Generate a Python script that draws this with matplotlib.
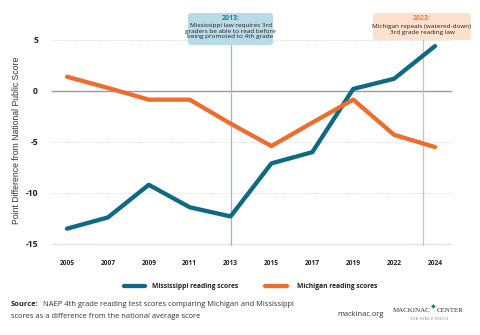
import matplotlib
matplotlib.use("Agg")
import matplotlib.pyplot as plt
from matplotlib.patches import FancyBboxPatch

years = ["2005", "2007", "2009", "2011", "2013", "2015", "2017", "2019", "2022", "2024"]
mississippi = [-13.5, -12.4, -9.2, -11.4, -12.3, -7.1, -6.0, 0.2, 1.2, 4.4]
michigan = [1.4, 0.3, -0.85, -0.85, -3.2, -5.4, -3.1, -0.85, -4.3, -5.5]
y_ticks = [-15, -10, -5, 0, 5]

# event markers (position on the category axis)
event_2013 = 4.0
event_2023 = 8.7

TEAL = "#0e6a80"
ORANGE = "#ee6c2d"

plt.rcParams["font.family"] = ["Open Sans", "DejaVu Sans"]

W, H = 480, 335
fig = plt.figure(figsize=(4.8, 3.35), dpi=100)
ax = fig.add_axes([52 / W, 1 - 246 / H, 400 / W, 236 / H])


def fx(px):
    return px / W


def fy(py):
    return 1 - py / H


x = list(range(len(years)))

for yv in [5, -5, -10]:
    ax.axhline(yv, color="#dddddd", lw=0.7, ls=(0, (1, 1)), zorder=1)
ax.axhline(-15, color="#e2e2e2", lw=0.8, zorder=1)
ax.axhline(0, color="#9a9a9a", lw=1.0, zorder=1)

ax.plot([event_2013, event_2013], [-15.2, 5], color="#8fbfcd", lw=0.9, zorder=2)
ax.plot([event_2023, event_2023], [-15.2, 5], color="#f3b497", lw=0.9, zorder=2)

ax.plot(x, mississippi, color=TEAL, lw=3.1, solid_capstyle="round",
        solid_joinstyle="round", zorder=3)
ax.plot(x, michigan, color=ORANGE, lw=3.1, solid_capstyle="round",
        solid_joinstyle="round", zorder=3)

ax.set_xlim(-0.367, 9.416)
ax.set_ylim(-15.2, 7.94)
ax.set_xticks(x)
ax.set_xticklabels(years, fontsize=4.8, fontweight="bold", color="#222222")
ax.set_yticks(y_ticks)
ax.set_yticklabels([str(v) for v in y_ticks], fontsize=6.2, fontweight="bold",
                   color="#222222")
ax.tick_params(axis="both", length=0)
ax.tick_params(axis="x", pad=10)
ax.tick_params(axis="y", pad=10)
for s in ax.spines.values():
    s.set_visible(False)

fig.text(fx(17), fy(140), "Point Difference from National Public Score",
         rotation=90, ha="center", va="center", fontsize=6.2, color="#333333",
         family=["Liberation Sans", "DejaVu Sans"])

# annotation boxes
fig.patches.append(FancyBboxPatch((fx(188), fy(45)), fx(273) - fx(188), fy(13) - fy(45),
                                  boxstyle="round,pad=0,rounding_size=0.008",
                                  transform=fig.transFigure, fc="#b8dbe5", ec="none",
                                  zorder=4))
fig.text(fx(230.5), fy(19), "2013:", ha="center", va="center",
         fontsize=5.0, fontweight="bold", color="#1b7f99", zorder=6)
fig.text(fx(230.5), fy(31),
         "Mississippi law requires 3rd\ngraders be able to read before\nbeing promoted to 4th grade",
         ha="center", va="center", fontsize=4.6, color="#222222",
         linespacing=1.05, zorder=6)

fig.patches.append(FancyBboxPatch((fx(373), fy(40)), fx(471) - fx(373), fy(13) - fy(40),
                                  boxstyle="round,pad=0,rounding_size=0.008",
                                  transform=fig.transFigure, fc="#fde1cd", ec="none",
                                  zorder=4))
fig.text(fx(422), fy(19), "2023:", ha="center", va="center",
         fontsize=5.0, fontweight="bold", color="#f07a3a", zorder=6)
fig.text(fx(422), fy(29.5), "Michigan repeals (watered-down)\n3rd grade reading law",
         ha="center", va="center", fontsize=4.6, color="#222222",
         linespacing=1.1, zorder=6)

# legend
leg_y = fy(286)
fig.lines.append(plt.Line2D([fx(124), fx(145)], [leg_y, leg_y], color=TEAL,
                            lw=3.1, solid_capstyle="round", transform=fig.transFigure))
fig.text(fx(152), leg_y, "Mississippi reading scores", ha="left", va="center",
         fontsize=4.9, fontweight="bold", color="#222222")
fig.lines.append(plt.Line2D([fx(265), fx(287)], [leg_y, leg_y], color=ORANGE,
                            lw=3.1, solid_capstyle="round", transform=fig.transFigure))
fig.text(fx(297), leg_y, "Michigan reading scores", ha="left", va="center",
         fontsize=4.9, fontweight="bold", color="#222222")

# footer
fig.text(fx(11), fy(304), "Source:", ha="left", va="center",
         fontsize=5.4, fontweight="bold", color="#222222")
fig.text(fx(43), fy(304),
         "NAEP 4th grade reading test scores comparing Michigan and Mississippi",
         ha="left", va="center", fontsize=5.4, color="#333333")
fig.text(fx(11), fy(316), "scores as a difference from the national average score",
         ha="left", va="center", fontsize=5.4, color="#333333")
fig.text(fx(361), fy(315), "mackinac.org", ha="center", va="center",
         fontsize=5.4, color="#333333")
fig.text(fx(393), fy(311), "MACKINAC", ha="left", va="center",
         fontsize=5.0, color="#333333", family=["Liberation Serif", "DejaVu Serif"])
fig.text(fx(437), fy(311), "CENTER", ha="left", va="center",
         fontsize=5.0, color="#333333", family=["Liberation Serif", "DejaVu Serif"])
fig.text(fx(430), fy(319), "F O R   P U B L I C   P O L I C Y", ha="center",
         va="center", fontsize=2.0, color="#555555",
         family=["Liberation Serif", "DejaVu Serif"])
fig.text(fx(433), fy(307), "\u25c6", ha="center", va="center",
         fontsize=4.5, color="#1b7f99")

fig.savefig("out.png", dpi=100, facecolor="white")
